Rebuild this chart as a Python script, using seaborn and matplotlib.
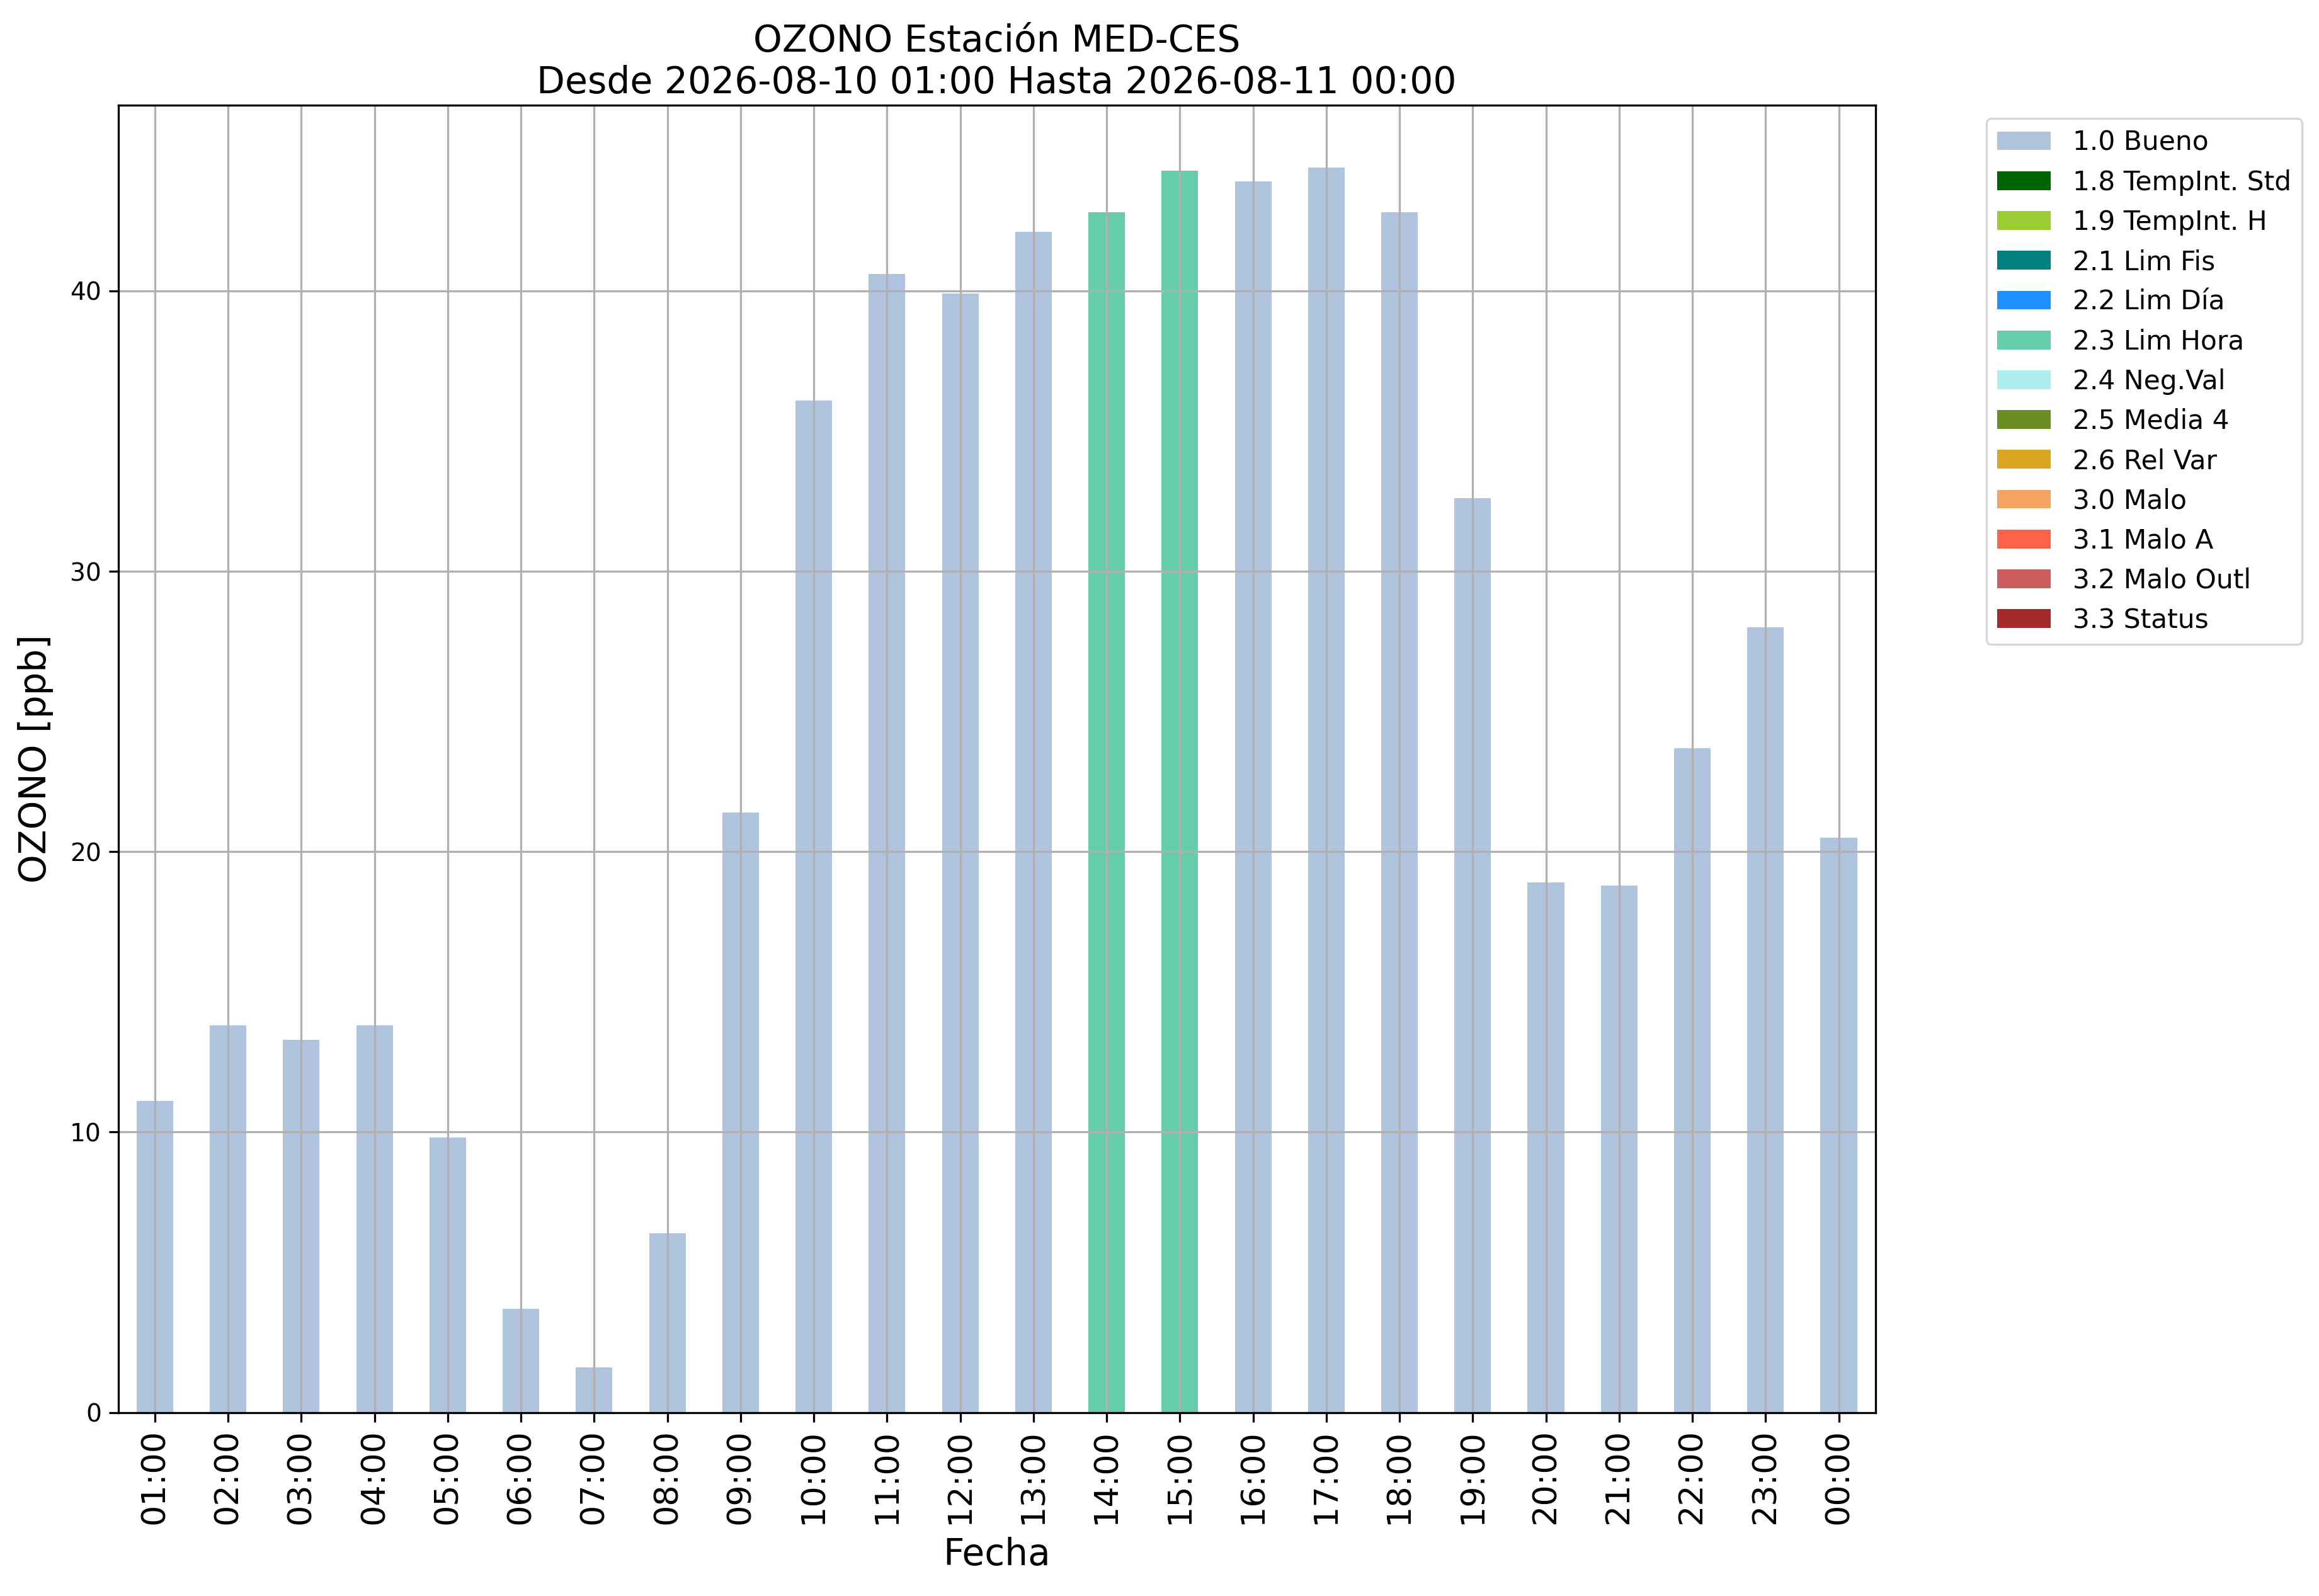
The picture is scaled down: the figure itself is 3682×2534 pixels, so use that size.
import pandas as pd
import matplotlib
matplotlib.use("Agg")
import matplotlib.pyplot as plt
import seaborn as sns

# datos horarios de ozono (ppb) y su bandera de calidad
horas = ['01:00', '02:00', '03:00', '04:00', '05:00', '06:00', '07:00', '08:00',
         '09:00', '10:00', '11:00', '12:00', '13:00', '14:00', '15:00', '16:00',
         '17:00', '18:00', '19:00', '20:00', '21:00', '22:00', '23:00', '00:00']
ozono = [11.1, 13.8, 13.3, 13.8, 9.8, 3.7, 1.6, 6.4,
         21.4, 36.1, 40.6, 39.9, 42.1, 42.8, 44.3, 43.9,
         44.4, 42.8, 32.6, 18.9, 18.8, 23.7, 28.0, 20.5]
bandera = ['1.0 Bueno'] * 13 + ['2.3 Lim Hora'] * 2 + ['1.0 Bueno'] * 9

categorias = ['1.0 Bueno', '1.8 TempInt. Std', '1.9 TempInt. H', '2.1 Lim Fis',
              '2.2 Lim Día', '2.3 Lim Hora', '2.4 Neg.Val', '2.5 Media 4',
              '2.6 Rel Var', '3.0 Malo', '3.1 Malo A', '3.2 Malo Outl', '3.3 Status']
colores = ['lightsteelblue', 'darkgreen', 'yellowgreen', 'teal',
           'dodgerblue', 'mediumaquamarine', 'paleturquoise', 'olivedrab',
           'goldenrod', 'sandybrown', 'tomato', 'indianred', 'brown']

# tabla larga: una fila por hora y categoria (0 si no aplica)
filas = []
for h, v, b in zip(horas, ozono, bandera):
    for c in categorias:
        filas.append({'Fecha': h, 'Calidad': c, 'valor': v if c == b else 0.0})
df = pd.DataFrame(filas)

fig = plt.figure(figsize=(3682 / 235, 2534 / 235), dpi=235)
ax = fig.add_axes([0.051, 0.115, 0.7577, 0.819])

sns.barplot(data=df, x='Fecha', y='valor', hue='Calidad', order=horas,
            hue_order=categorias, palette=dict(zip(categorias, colores)),
            saturation=1, dodge=False, width=0.5, errorbar=None, linewidth=0, ax=ax)

ax.grid(True, color='#b0b0b0', linewidth=1.0)
ax.set_xlim(-0.5, len(horas) - 0.5)
ax.set_title("OZONO Estación MED-CES\nDesde 2026-08-10 01:00 Hasta 2026-08-11 00:00",
             fontsize=17.9)
ax.set_xlabel("Fecha", fontsize=17.8, labelpad=6)
ax.set_ylabel("OZONO [ppb]", fontsize=17.8, labelpad=8)
ax.tick_params(axis='x', labelsize=16, rotation=90, length=4.7, width=1.0)
ax.tick_params(axis='y', labelsize=12, length=4.7, width=1.0)
for s in ax.spines.values():
    s.set_linewidth(1.0)

sns.move_legend(ax, "upper left", bbox_to_anchor=(1.0556, 1.0), borderaxespad=0.5,
                title=None, fontsize=13, frameon=True, borderpad=0.4,
                labelspacing=0.5, handlelength=2.0, handletextpad=0.83)

fig.savefig("out.png", dpi=235)
plt.close(fig)
